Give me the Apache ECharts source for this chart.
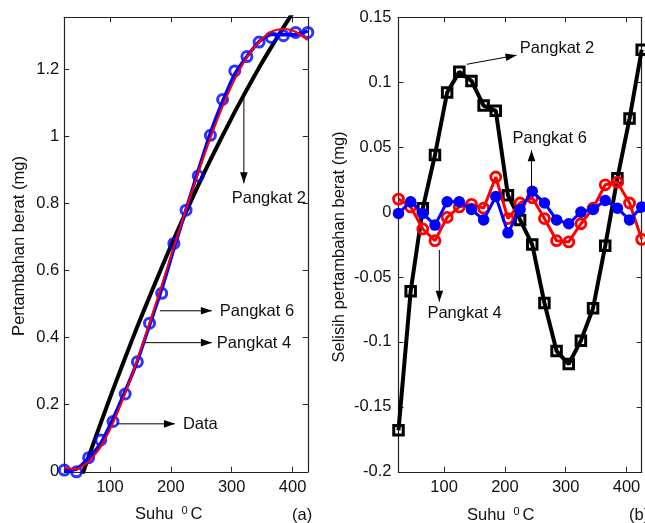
<!DOCTYPE html>
<html><head><meta charset="utf-8">
<script src="https://cdn.jsdelivr.net/npm/echarts@6/dist/echarts.min.js"></script>
<style>html,body{margin:0;padding:0;background:#fff}#c{width:645px;height:523px}</style>
</head><body><div id="c"></div>
<script>
// ---- data ----
const temps = [25,45,65,85,105,125,145,165,185,205,225,245,265,285,305,325,345,365,385,405,425];
const dataMeasured = [0.005,0.000,0.042,0.095,0.150,0.232,0.328,0.443,0.532,0.681,0.780,0.882,1.003,1.110,1.195,1.238,1.281,1.295,1.300,1.310,1.310];
const fitPangkat2 = [-0.165,-0.058,0.045,0.146,0.245,0.340,0.433,0.522,0.609,0.694,0.775,0.854,0.930,1.002,1.073,1.140,1.205,1.266,1.325,1.381,1.435];
const fitPangkat4 = [0.012,0.008,0.030,0.075,0.145,0.234,0.334,0.443,0.556,0.670,0.783,0.892,0.995,1.089,1.170,1.236,1.283,1.312,1.321,1.312,1.287];
const fitPangkat6 = [0.004,0.008,0.041,0.085,0.158,0.240,0.330,0.437,0.544,0.665,0.782,0.898,1.010,1.104,1.186,1.238,1.283,1.304,1.303,1.304,1.314];
const residPangkat2 = [-0.168,-0.061,0.003,0.044,0.092,0.108,0.101,0.082,0.078,0.013,-0.006,-0.025,-0.070,-0.107,-0.117,-0.099,-0.074,-0.026,0.026,0.072,0.125];
const residPangkat4 = [0.010,0.004,-0.013,-0.022,-0.004,0.004,0.006,0.003,0.027,-0.005,0.007,0.011,-0.005,-0.022,-0.023,-0.009,0.003,0.021,0.023,0.007,-0.021];
const residPangkat6 = [-0.001,0.008,-0.001,-0.010,0.008,0.008,0.002,-0.006,0.012,-0.016,0.002,0.016,0.007,-0.006,-0.009,0.000,0.002,0.009,0.003,-0.006,0.004];
const xTickLabels = [100,200,300,400];
const yTickLabelsA = [0,0.2,0.4,0.6,0.8,1,1.2];
const yTickLabelsB = [-0.2,-0.15,-0.1,-0.05,0,0.05,0.1,0.15];

// annotations in data coordinates
const notesA = [
  {text:'Pangkat 2', at:[300,0.815], from:[320,1.116], to:[320,0.860]},
  {text:'Pangkat 6', at:[280.5,0.477], from:[182,0.480], to:[267.4,0.480]},
  {text:'Pangkat 4', at:[275.6,0.384], from:[157.4,0.385], to:[267.4,0.385]},
  {text:'Data', at:[219.8,0.140], from:[111.5,0.143], to:[206.7,0.143]}
];
const notesB = [
  {text:'Pangkat 2', at:[224.6,0.126], from:[137.2,0.1138], to:[219.2,0.1208]},
  {text:'Pangkat 6', at:[212.6,0.0569], from:[243.8,0.0169], to:[243.8,0.0477]},
  {text:'Pangkat 4', at:[72.6,-0.0777], from:[92.2,-0.0292], to:[92.2,-0.069]}
];

const FONT = '"Liberation Sans", Arial, Helvetica, sans-serif';
const FS = 16.5;
const TXT = '#111';
const AX = '#222';
const pairs = arr => temps.map((t,i)=>[t, arr[i]]);
const has = (list, v) => list.some(t => Math.abs(t - v) < 1e-9);
const fmt = v => String(+v.toFixed(3));

function xAx(g, pos, labels){
  return {type:'value', gridIndex:g, position:pos, min:25, max:425, minInterval:100, maxInterval:100,
    axisLine:{show:true, onZero:false, lineStyle:{color:AX, width:1.2}},
    axisTick:{show:true, inside:true, length:5, lineStyle:{color:AX, width:1}},
    axisLabel:{show:labels, margin:7, fontSize:FS, fontFamily:FONT, color:TXT, showMinLabel:false, showMaxLabel:false,
      formatter: v => has(xTickLabels, v) ? fmt(v) : ''},
    splitLine:{show:false}};
}
function yAx(g, pos, labels, min, max, interval, list, margin){
  return {type:'value', gridIndex:g, position:pos, min, max, interval,
    axisLine:{show:true, onZero:false, lineStyle:{color:AX, width:1.2}},
    axisTick:{show:true, inside:true, length:5, lineStyle:{color:AX, width:1}},
    axisLabel:{show:labels, margin, fontSize:FS, fontFamily:FONT, color:TXT,
      formatter: v => has(list, v) ? fmt(v) : ''},
    splitLine:{show:false}};
}

const chart = echarts.init(document.getElementById('c'), null, {renderer:'canvas'});
const hollow = (c, w) => ({color:'rgba(255,255,255,0)', borderColor:c, borderWidth:w});

chart.setOption({
  animation:false,
  backgroundColor:'#fff',
  grid:[
    {left:64.3, top:17.3, width:243.5, height:454.5},
    {left:398.5, top:17.3, width:243.2, height:454.5}
  ],
  xAxis:[xAx(0,'bottom',true), xAx(0,'top',false), xAx(1,'bottom',true), xAx(1,'top',false)],
  yAxis:[
    yAx(0,'left',true,0,1.355,0.2,yTickLabelsA,5),
    yAx(0,'right',false,0,1.355,0.2,yTickLabelsA,5),
    yAx(1,'left',true,-0.2,0.15,0.05,yTickLabelsB,7),
    yAx(1,'right',false,-0.2,0.15,0.05,yTickLabelsB,7)
  ],
  series:[
    {name:'Pangkat 2', type:'line', xAxisIndex:0, yAxisIndex:0, data:pairs(fitPangkat2), showSymbol:false, smooth:0.2,
     lineStyle:{color:'#000', width:4}, clip:true, z:2},
    {name:'Pangkat 6', type:'line', xAxisIndex:0, yAxisIndex:0, data:pairs(fitPangkat6), showSymbol:false, smooth:0.2,
     lineStyle:{color:'#0000ff', width:3.5}, clip:true, z:3},
    {name:'Data', type:'scatter', xAxisIndex:0, yAxisIndex:0, data:pairs(dataMeasured), symbol:'circle', symbolSize:10,
     itemStyle:{color:'rgba(255,255,255,0)', borderColor:'#0000ff', borderWidth:3}, clip:false, z:4},
    {name:'Pangkat 4', type:'line', xAxisIndex:0, yAxisIndex:0, data:pairs(fitPangkat4), showSymbol:false, smooth:0.2,
     lineStyle:{color:'#ff0000', width:2}, clip:true, z:5},

    {name:'Selisih Pangkat 2', type:'line', xAxisIndex:2, yAxisIndex:2, data:pairs(residPangkat2), symbol:'rect', symbolSize:9.5,
     showAllSymbol:true, itemStyle:hollow('#000', 3), lineStyle:{color:'#000', width:4}, clip:false, z:2},
    {name:'Selisih Pangkat 4', type:'line', xAxisIndex:2, yAxisIndex:2, data:pairs(residPangkat4), symbol:'circle', symbolSize:10,
     showAllSymbol:true, itemStyle:hollow('#ff0000', 2.8), lineStyle:{color:'#ff0000', width:3}, clip:false, z:3},
    {name:'Selisih Pangkat 6', type:'line', xAxisIndex:2, yAxisIndex:2, data:pairs(residPangkat6), symbol:'circle', symbolSize:11.5,
     showAllSymbol:true, itemStyle:{color:'#0000ff'}, lineStyle:{color:'#0000ff', width:3}, clip:false, z:4}
  ]
});

// annotations and titles
const gfx = [];
function txt(x, y, text, opt){
  gfx.push(Object.assign({type:'text', x, y, silent:true, z:100,
    style:{text, fontSize:FS, fontFamily:FONT, fill:TXT, align:'left', verticalAlign:'middle'}}, opt||{}));
}
function arrow(p1, p2){
  gfx.push({type:'line', silent:true, z:100, shape:{x1:p1[0], y1:p1[1], x2:p2[0], y2:p2[1]}, style:{stroke:'#000', lineWidth:1}});
  const dx = p2[0]-p1[0], dy = p2[1]-p1[1], L = Math.hypot(dx,dy), ux = dx/L, uy = dy/L;
  const hl = 11, hw = 3.8;
  const bx = p2[0]-ux*hl, by = p2[1]-uy*hl;
  gfx.push({type:'polygon', silent:true, z:101, shape:{points:[[p2[0],p2[1]],[bx-uy*hw, by+ux*hw],[bx+uy*hw, by-ux*hw]]}, style:{fill:'#000'}});
}
[[0,notesA],[1,notesB]].forEach(([g, notes]) => {
  notes.forEach(n => {
    const a = chart.convertToPixel({gridIndex:g}, n.from);
    const b = chart.convertToPixel({gridIndex:g}, n.to);
    const t = chart.convertToPixel({gridIndex:g}, n.at);
    arrow(a, b);
    txt(t[0], t[1], n.text);
  });
});
// axis titles
function xTitle(x, y){
  txt(x, y, 'Suhu');
  txt(x+46.5, y-3.5, '0', {style:{text:'0', fontSize:11, fontFamily:FONT, fill:TXT, align:'left', verticalAlign:'middle'}});
  txt(x+55.5, y, 'C');
}
xTitle(135, 514);
xTitle(467, 515);
txt(292, 515, '(a)');
txt(629, 515.5, '(b)');
txt(19, 246, 'Pertambahan berat (mg)', {rotation:Math.PI/2, style:{text:'Pertambahan berat (mg)', fontSize:FS, fontFamily:FONT, fill:TXT, align:'center', verticalAlign:'middle'}});
txt(339, 247, 'Selisih pertambahan berat (mg)', {rotation:Math.PI/2, style:{text:'Selisih pertambahan berat (mg)', fontSize:FS, fontFamily:FONT, fill:TXT, align:'center', verticalAlign:'middle'}});
chart.setOption({graphic:gfx});
</script></body></html>
